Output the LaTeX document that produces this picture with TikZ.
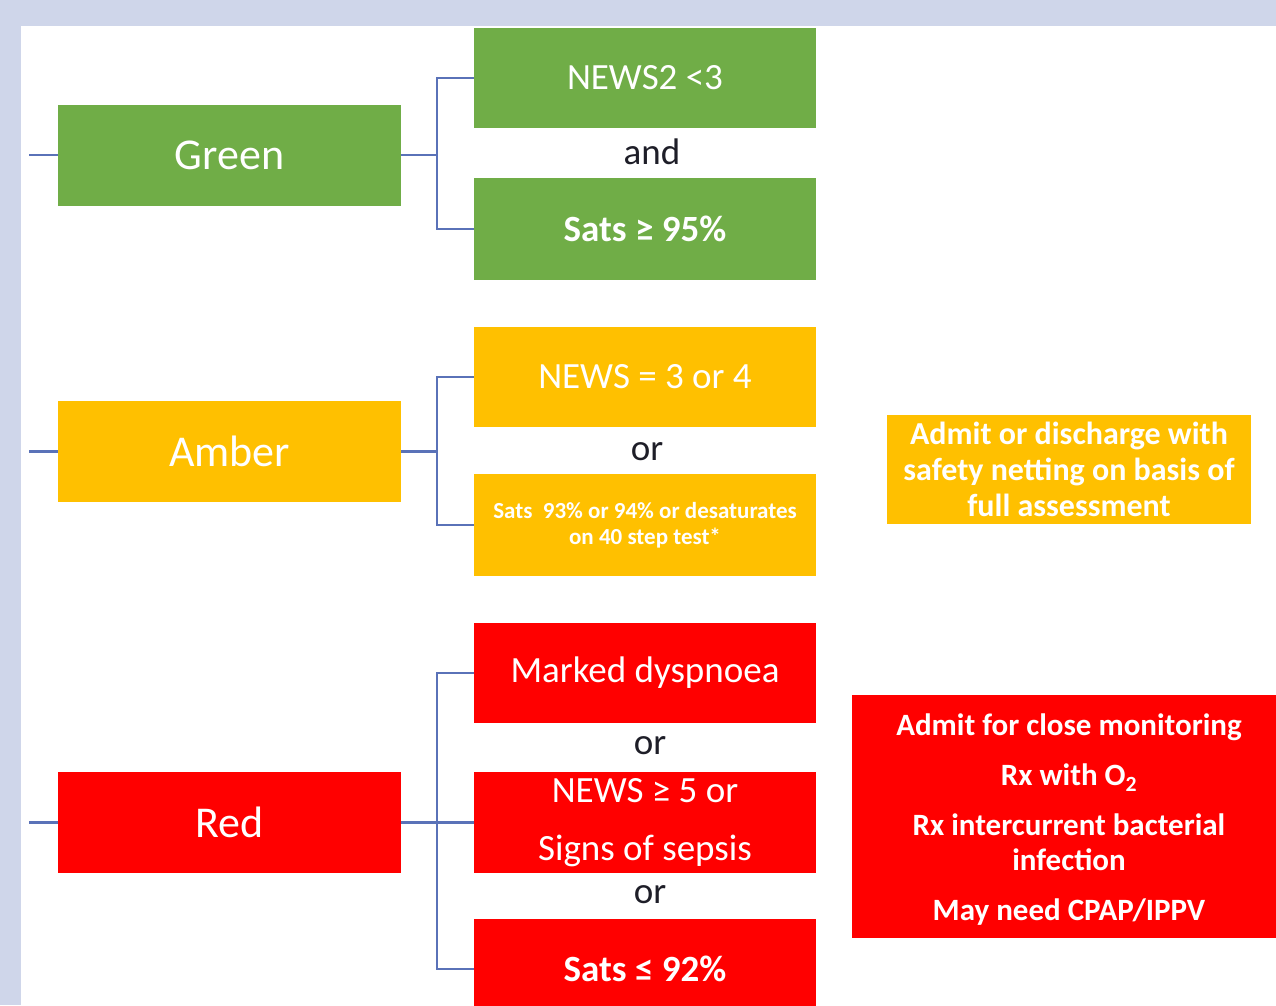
\documentclass[tikz,border=0pt]{standalone}
\usepackage{fontspec}
\setmainfont{Carlito}
\definecolor{bgl}{HTML}{CFD6EA}
\definecolor{cgreen}{HTML}{70AD47}
\definecolor{camber}{HTML}{FFC000}
\definecolor{cred}{HTML}{FF0000}
\definecolor{cconn}{HTML}{5A72B8}
\definecolor{ctext}{HTML}{1E1E28}
\begin{document}
\begin{tikzpicture}[x=1pt,y=-1pt,
  box/.style={draw=none,inner sep=0pt,text=white,align=center},
  parent/.style={box,minimum width=343pt,minimum height=101pt,font=\fontsize{44}{48}\selectfont},
  child/.style={box,minimum width=342pt,minimum height=101pt,font=\fontsize{37}{58}\selectfont},
  joiner/.style={text=ctext,inner sep=0pt,font=\fontsize{37}{40}\selectfont},
  conn/.style={draw=cconn,line width=2.3pt}]
\useasboundingbox (0,0) rectangle (1276,1005);
\fill[bgl] (0,0) rectangle (1276,1005);
\fill[white] (21,26) rectangle (1276,1005);
\begin{scope}
\clip (21,26) rectangle (1276,1005);
% parents
\node[parent,fill=cgreen] (green) at (229.5,155) {Green};
\node[parent,fill=camber] (amber) at (229.5,451.5) {Amber};
\node[parent,fill=cred] (red) at (229.5,822.5) {Red};
% green children
\node[child,fill=cgreen,minimum height=100pt] (g1) at (645,78) {NEWS2 <3};
\node[joiner] (gand) at (652,152) {and};
\node[child,fill=cgreen,minimum height=102pt,font=\fontsize{37}{40}\bfseries\selectfont] (g2) at (645,229) {Sats ≥ 95\%};
% amber children
\node[child,fill=camber,minimum height=100pt] (a1) at (645,377) {NEWS = 3 or 4};
\node[joiner] (aor) at (647,452) {or};
\node[child,fill=camber,minimum height=102pt,font=\fontsize{23}{26}\bfseries\selectfont] (a2) at (645,525) {Sats\ \ 93\% or 94\% or desaturates\\on 40 step test*};
% red children
\node[child,fill=cred,minimum height=100pt] (r1) at (645,673) {Marked dyspnoea};
\node[joiner] (ror1) at (650,746) {or};
\node[child,fill=cred] (r2) at (645,822.5) {NEWS ≥ 5 or\\Signs of sepsis};
\node[joiner] (ror2) at (650,895) {or};
\node[child,fill=cred,minimum height=100pt,font=\fontsize{37}{40}\bfseries\selectfont] (r3) at (645,969) {Sats ≤ 92\%};
% outcomes
\node[box,fill=camber,minimum width=364pt,minimum height=109pt,font=\fontsize{32}{36}\bfseries\selectfont] (aout) at (1069,469.5) {Admit or discharge with\\safety netting on basis of\\full assessment};
\node[box,fill=cred,minimum width=434pt,minimum height=243pt] (rout) at (1069,816.5) {};
\node[box,font=\fontsize{31}{35}\bfseries\selectfont] (routtext) at (1069,820) {Admit for close monitoring\\[15pt]Rx with O\textsubscript{2}\\[15pt]Rx intercurrent bacterial\\infection\\[15pt]May need CPAP/IPPV};
% connectors
\coordinate (gin) at (29,155);
\coordinate (ain) at (29,451.5);
\coordinate (rin) at (29,822.5);
\coordinate (gj) at (437,155);
\coordinate (aj) at (437,451.5);
\coordinate (rj) at (437,822.5);
\draw[conn] (gin) -- (green.west);
\draw[conn] (ain) -- (amber.west);
\draw[conn] (rin) -- (red.west);
\draw[conn] (green.east) -- (gj);
\draw[conn] (g1.west) -| (gj) |- (g2.west);
\draw[conn] (amber.east) -- (aj);
\draw[conn] (a1.west) -| (aj) |- (a2.west);
\draw[conn] (red.east) -- (rj) -- (r2.west);
\draw[conn] (r1.west) -| (rj) |- (r3.west);
\end{scope}
\end{tikzpicture}
\end{document}
